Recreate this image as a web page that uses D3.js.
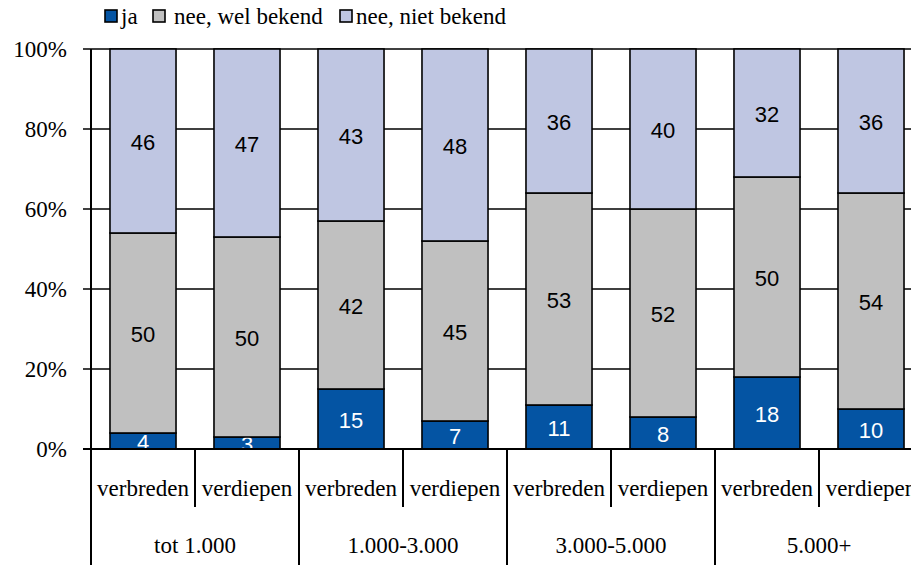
<!DOCTYPE html>
<html>
<head>
<meta charset="utf-8">
<script src="https://cdn.jsdelivr.net/npm/d3@7"></script>
<style>
  body { margin: 0; background: #fff; }
  svg { display: block; }
</style>
</head>
<body>
<div id="chart"></div>
<script>
// data
const groups = ['tot 1.000', '1.000-3.000', '3.000-5.000', '5.000+'];
const subs = ['verbreden', 'verdiepen'];
const ja = [4, 3, 15, 7, 11, 8, 18, 10];
const neeWel = [50, 50, 42, 45, 53, 52, 50, 54];
const neeNiet = [46, 47, 43, 48, 36, 40, 32, 36];
const seriesNames = ['ja', 'nee, wel bekend', 'nee, niet bekend'];
const yTicks = [0, 20, 40, 60, 80, 100];

const colors = ['#0454a3', '#c0c0c0', '#bfc6e2'];
const textColors = ['#fff', '#000', '#000'];

const width = 911, height = 565;
const plotLeft = 91, plotTop = 49, plotBottom = 449;
const catStep = 104;

const cats = [];
groups.forEach((g, gi) => subs.forEach((s, si) => cats.push({ id: gi * 2 + si, group: g, sub: s })));

const rows = cats.map((c, i) => ({ id: c.id, ja: ja[i], wel: neeWel[i], niet: neeNiet[i] }));
const keys = ['ja', 'wel', 'niet'];
const stacked = d3.stack().keys(keys)(rows);

const x = d3.scaleBand()
    .domain(cats.map(c => c.id))
    .range([plotLeft, plotLeft + catStep * cats.length])
    .paddingInner(0.365)
    .paddingOuter(0.1825);

const y = d3.scaleLinear().domain([0, 100]).range([plotBottom, plotTop]);

const svg = d3.select('#chart').append('svg')
    .attr('width', width)
    .attr('height', height);

const serif = '"Liberation Serif", "Times New Roman", serif';
const sans = '"Liberation Sans", Arial, sans-serif';
const serifSize = 23;

// gridlines + y ticks
svg.append('g').selectAll('line')
    .data(yTicks)
    .join('line')
    .attr('x1', plotLeft - 8)
    .attr('x2', width)
    .attr('y1', d => y(d))
    .attr('y2', d => y(d))
    .attr('stroke', '#000')
    .attr('stroke-width', 1.6);

svg.append('g').selectAll('text')
    .data(yTicks)
    .join('text')
    .attr('x', 67)
    .attr('y', d => y(d) + 8)
    .attr('text-anchor', 'end')
    .attr('font-family', serif)
    .attr('font-size', serifSize)
    .text(d => d + '%');

// bars
stacked.forEach((layer, li) => {
    const g = svg.append('g');
    g.selectAll('rect')
        .data(layer)
        .join('rect')
        .attr('x', d => x(d.data.id))
        .attr('width', x.bandwidth())
        .attr('y', d => y(d[1]))
        .attr('height', d => y(d[0]) - y(d[1]))
        .attr('fill', colors[li])
        .attr('stroke', '#000')
        .attr('stroke-width', 1.6);
    g.selectAll('text')
        .data(layer)
        .join('text')
        .attr('x', d => x(d.data.id) + x.bandwidth() / 2)
        .attr('y', d => y((d[0] + d[1]) / 2) + 9)
        .attr('text-anchor', 'middle')
        .attr('font-family', sans)
        .attr('font-size', 22)
        .attr('fill', textColors[li])
        .text(d => d[1] - d[0]);
});

// x axis line
svg.append('line')
    .attr('x1', plotLeft - 8).attr('x2', width)
    .attr('y1', plotBottom).attr('y2', plotBottom)
    .attr('stroke', '#000').attr('stroke-width', 2.2);

// y axis line
svg.append('line')
    .attr('x1', plotLeft).attr('x2', plotLeft)
    .attr('y1', plotTop).attr('y2', height)
    .attr('stroke', '#000').attr('stroke-width', 2);

// category separators
const bounds = d3.range(1, cats.length + 1);
svg.append('g').selectAll('line')
    .data(bounds)
    .join('line')
    .attr('x1', i => plotLeft + catStep * i)
    .attr('x2', i => plotLeft + catStep * i)
    .attr('y1', plotBottom)
    .attr('y2', i => i % 2 === 0 ? height : 507)
    .attr('stroke', '#000')
    .attr('stroke-width', 2);

// sub labels
svg.append('g').selectAll('text')
    .data(cats)
    .join('text')
    .attr('x', d => x(d.id) + x.bandwidth() / 2)
    .attr('y', 496)
    .attr('text-anchor', 'middle')
    .attr('font-family', serif)
    .attr('font-size', serifSize)
    .text(d => d.sub);

// group labels
svg.append('g').selectAll('text')
    .data(groups)
    .join('text')
    .attr('x', (d, i) => plotLeft + catStep * (2 * i + 1))
    .attr('y', 553)
    .attr('text-anchor', 'middle')
    .attr('font-family', serif)
    .attr('font-size', serifSize)
    .text(d => d);

// legend
const legendX = [105, 153, 340];
const legendTextX = [121, 174, 356];
const lg = svg.append('g');
seriesNames.forEach((name, i) => {
    lg.append('rect')
        .attr('x', legendX[i]).attr('y', 10)
        .attr('width', 12).attr('height', 12)
        .attr('fill', colors[i])
        .attr('stroke', '#000')
        .attr('stroke-width', 1.6);
    lg.append('text')
        .attr('x', legendTextX[i])
        .attr('y', 24)
        .attr('font-family', serif)
        .attr('font-size', serifSize)
        .text(name);
});
</script>
</body>
</html>
